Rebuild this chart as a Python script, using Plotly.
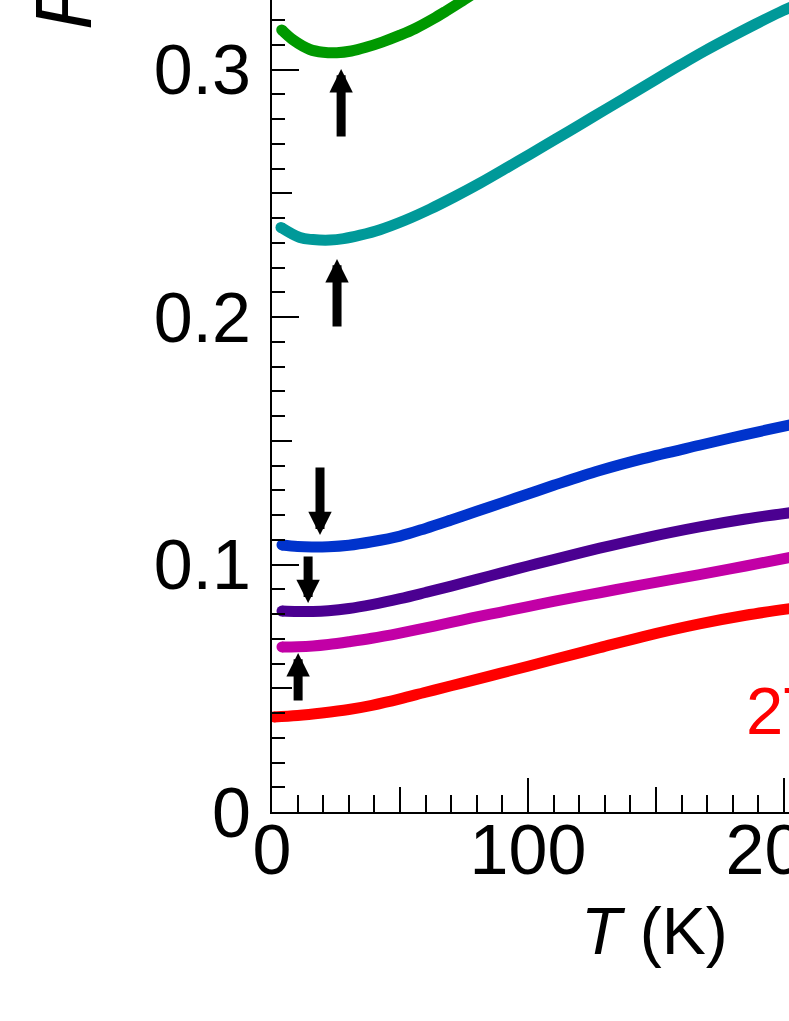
import plotly.graph_objects as go

# curve data: T (K) vs R
T_green = [3.8, 8.3, 14.8, 20, 25.3, 31, 37, 43, 50, 56, 63, 68, 73.4, 78]
R_green = [0.3160, 0.3119, 0.3081, 0.3070, 0.3068, 0.3075, 0.3091, 0.3111, 0.3139, 0.3166, 0.3205, 0.3236, 0.3271, 0.3302]

T_teal = [3.5, 10.9, 16, 22.7, 28, 34.4, 42.2, 52, 61.7, 71.5, 81.25, 91, 100.8, 110.5,
          120.3, 130, 139.8, 149.6, 159.4, 169, 178.9, 188.6, 198.4, 203]
R_teal = [0.2362, 0.2321, 0.2313, 0.2311, 0.2317, 0.2331, 0.2353, 0.2391, 0.2436, 0.2487,
          0.2541, 0.2599, 0.2658, 0.2717, 0.2777, 0.2837, 0.2897, 0.2958, 0.3018, 0.3075,
          0.3130, 0.3182, 0.3232, 0.3253]

T_blue = [3.9, 10, 15.6, 22, 30, 39, 50, 60, 70, 80, 90, 100, 110, 128, 145, 167, 185, 203]
R_blue = [0.1079, 0.1073, 0.1071, 0.1072, 0.1078, 0.1092, 0.1115, 0.1146, 0.1180, 0.1215,
          0.1250, 0.1285, 0.1320, 0.1380, 0.1428, 0.1482, 0.1525, 0.1566]

T_purple = [3.9, 10, 16, 22, 30, 39, 50, 60, 70, 80, 90, 100, 110, 128, 145, 167, 185, 203]
R_purple = [0.0812, 0.0810, 0.0810, 0.0813, 0.0822, 0.0838, 0.0862, 0.0887, 0.0913, 0.0940,
            0.0967, 0.0994, 0.1020, 0.1066, 0.1106, 0.1152, 0.1184, 0.1210]

T_magenta = [3.9, 10, 16, 22, 30, 39, 50, 60, 70, 78, 89, 100, 110, 128, 145, 167, 185, 203]
R_magenta = [0.0667, 0.0668, 0.0671, 0.0677, 0.0688, 0.0702, 0.0723, 0.0744, 0.0766, 0.0784,
             0.0807, 0.0830, 0.0851, 0.0886, 0.0919, 0.0959, 0.0994, 0.1030]

T_red = [0.8, 10, 19.5, 30, 39, 50, 60, 70, 78, 89, 100, 110, 128, 145, 167, 185, 203]
R_red = [0.0384, 0.0390, 0.0400, 0.0414, 0.0431, 0.0457, 0.0484, 0.0510, 0.0531, 0.0560,
         0.0589, 0.0616, 0.0664, 0.0709, 0.0760, 0.0795, 0.0823]

# arrows marking the minima: T position, tip R, tail R
arrow_T = [27.0, 25.4, 18.75, 14.1, 10.2]
arrow_tip = [0.3002, 0.2234, 0.1119, 0.0844, 0.0642]
arrow_tail = [0.2723, 0.1956, 0.1398, 0.1038, 0.0444]

curves = [
    (T_green, R_green, "#009900"),
    (T_teal, R_teal, "#009999"),
    (T_blue, R_blue, "#0033CC"),
    (T_purple, R_purple, "#4B0091"),
    (T_magenta, R_magenta, "#C200A6"),
    (T_red, R_red, "#FF0000"),
]

FONT = "Liberation Sans, Arial, sans-serif"

fig = go.Figure()
for t, r, c in curves:
    fig.add_trace(go.Scatter(x=t, y=r, mode="lines", line=dict(color=c, width=11, shape="spline"),
                             showlegend=False, hoverinfo="skip"))
    # rounded start of each curve
    fig.add_trace(go.Scatter(x=t[:1], y=r[:1], mode="markers",
                             marker=dict(color=c, size=11, line=dict(width=0)),
                             showlegend=False, hoverinfo="skip"))

# dummy trace so the overlay axes (medium ticks) get drawn
fig.add_trace(go.Scatter(x=[None], y=[None], xaxis="x2", yaxis="y2", showlegend=False))

for t, tip, tail in zip(arrow_T, arrow_tip, arrow_tail):
    fig.add_annotation(x=t, y=tip, ax=t, ay=tail, xref="x", yref="y", axref="x", ayref="y",
                       text="", showarrow=True, arrowhead=2, arrowwidth=9, arrowsize=0.52,
                       standoff=0, arrowcolor="black")

# axis titles and curve label (partly cropped like the reference)
fig.add_annotation(text="<i>T</i> (K)", xref="paper", yref="paper", x=0.739, y=-0.0985,
                   xanchor="center", yanchor="top", showarrow=False,
                   font=dict(family=FONT, size=66, color="black"))
fig.add_annotation(text="<i>R</i> (Ω)", xref="paper", yref="paper", x=-0.4932, y=0.9606,
                   xanchor="left", yanchor="bottom", textangle=-90, showarrow=False,
                   font=dict(family=FONT, size=80, color="black"))
fig.add_annotation(text="2T", xref="paper", yref="paper", x=0.913, y=0.0764,
                   xanchor="left", yanchor="bottom", showarrow=False,
                   font=dict(family=FONT, size=67, color="#FF0000"))

xr = [0, 201.95]
yr = [0, 0.3281]
fig.update_layout(
    width=789, height=1021,
    margin=dict(l=272, r=0, t=0, b=209, pad=0, autoexpand=False),
    paper_bgcolor="white", plot_bgcolor="white",
    font=dict(family=FONT, color="black"),
    xaxis=dict(range=xr, tick0=0, dtick=100, ticks="inside", ticklen=34, tickwidth=2,
               tickcolor="black", showline=True, linewidth=2, linecolor="black",
               showgrid=False, zeroline=False, tickfont=dict(size=70), ticklabelstandoff=-24,
               ticklabeloverflow="allow", automargin=False,
               minor=dict(dtick=10, ticklen=17, tickwidth=2, tickcolor="black", ticks="inside")),
    yaxis=dict(range=yr, tick0=0, dtick=0.1, ticks="inside", ticklen=27, tickwidth=2,
               tickcolor="black", showline=True, linewidth=2, linecolor="black",
               showgrid=False, zeroline=False, tickfont=dict(size=70), ticklabelstandoff=5,
               ticklabeloverflow="allow", automargin=False,
               minor=dict(dtick=0.01, ticklen=13, tickwidth=2, tickcolor="black", ticks="inside")),
    xaxis2=dict(range=xr, overlaying="x", tick0=0, dtick=50, ticks="inside", ticklen=25,
                tickwidth=2, tickcolor="black", showticklabels=False, showgrid=False,
                zeroline=False, showline=False, automargin=False),
    yaxis2=dict(range=yr, overlaying="y", tick0=0, dtick=0.05, ticks="inside", ticklen=20,
                tickwidth=2, tickcolor="black", showticklabels=False, showgrid=False,
                zeroline=False, showline=False, automargin=False),
)

fig.write_html("out.html", config={"displayModeBar": False},
               post_script="document.body.style.margin='0';")
